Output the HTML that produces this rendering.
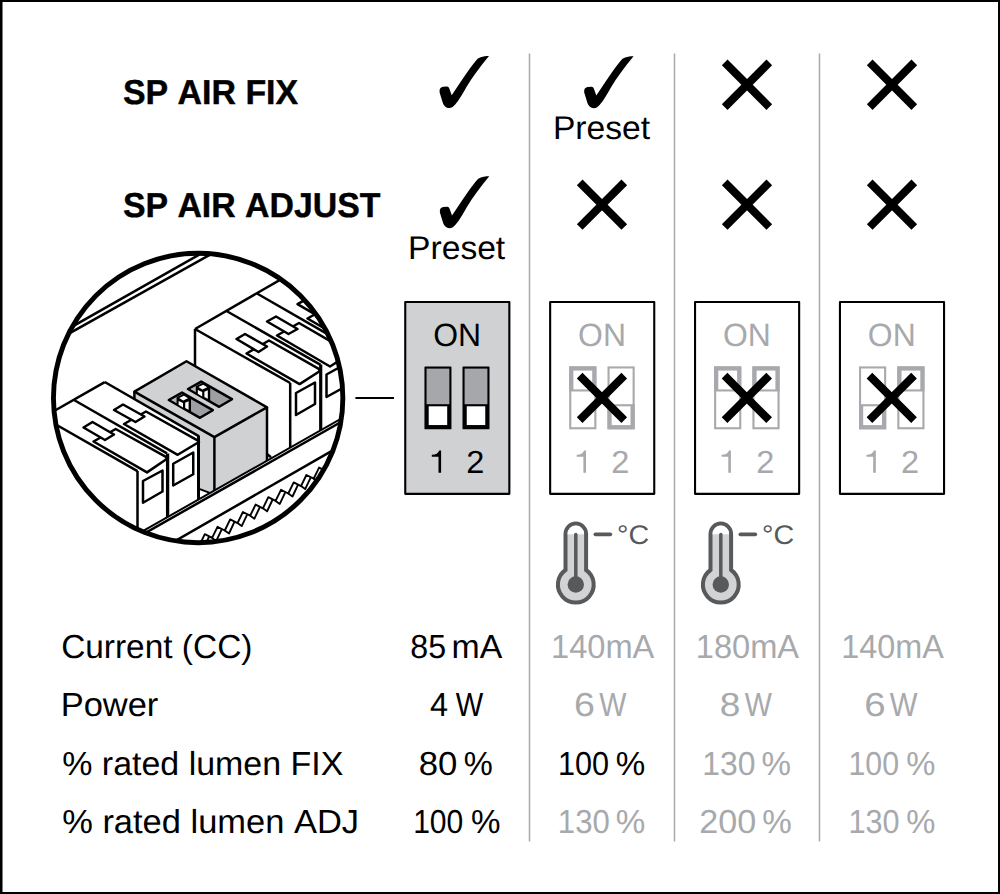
<!DOCTYPE html>
<html><head><meta charset="utf-8">
<style>
html,body{margin:0;padding:0;background:#fff;}
body{width:1000px;height:894px;overflow:hidden;}
svg{display:block;}
text{font-family:"Liberation Sans",sans-serif;text-rendering:geometricPrecision;font-kerning:none;}
</style></head><body>
<svg width="1000" height="894" viewBox="0 0 1000 894">
<defs>
<path id="chk" d="M19.6,50.4 C19.6,48.5 21,47.5 23,46.8 L26.7,46.5 Q28.5,46.2 29.2,48.3 L31.7,55.2 C43.3,38.3 52.4,24.2 57.9,18.6 C61.4,16.6 65.5,16.1 69,16.1 C60.4,26.2 52.4,37.3 46.3,47.3 C42.3,54.4 38.3,61.4 35.2,64.5 C33.2,67 31.2,68 29.2,68 C26.2,68 23.7,65.5 22.7,62.4 L19.6,52.4 Z"/>
<path id="xm" d="M-22.3,-22.3 L22.3,22.3 M22.3,-22.3 L-22.3,22.3" stroke="#000" stroke-width="8" fill="none"/>
</defs>
<rect x="0" y="0" width="1000" height="894" fill="#fff"/>
<rect x="0" y="0" width="2.5" height="894" fill="#000"/><rect x="0" y="0" width="1000" height="2" fill="#000"/><rect x="998" y="0" width="2" height="894" fill="#000"/><rect x="0" y="892" width="1000" height="2" fill="#000"/>
<g stroke="#a7a9ac" stroke-width="1.5">
<line x1="529.5" y1="53.5" x2="529.5" y2="841.5"/>
<line x1="674.5" y1="53.5" x2="674.5" y2="841.5"/>
<line x1="819.5" y1="53.5" x2="819.5" y2="841.5"/>
</g>
<use href="#chk" x="420" y="40"/>
<use href="#chk" x="564.6" y="40.2"/>
<use href="#chk" x="420.3" y="160.2"/>
<use href="#xm" x="747" y="84.75"/>
<use href="#xm" x="892" y="84.75"/>
<use href="#xm" x="602" y="204.7"/>
<use href="#xm" x="747" y="204.7"/>
<use href="#xm" x="892" y="204.7"/>

<g id="illu">
<defs><clipPath id="cc"><circle cx="198.15" cy="398.0" r="144.7"/></clipPath></defs>
<g clip-path="url(#cc)" stroke-linejoin="round" stroke-linecap="butt">
<circle cx="198.15" cy="398.0" r="144.7" fill="#fff"/>
<path d="M34.25,348.19 L238.25,232.51" stroke="#000" stroke-width="2.5" fill="none"/>
<path d="M30.35,355.13 L239.15,238.42" stroke="#000" stroke-width="2.5" fill="none"/>
<path d="M195.00,329.00 L300.00,268.30" stroke="#000" stroke-width="2.5" fill="none"/>
<path d="M195.00,329.00 L195.00,367.00" stroke="#000" stroke-width="2.5" fill="none"/>
<path d="M195.00,329.00 L290.20,383.00" stroke="#000" stroke-width="2.5" fill="none"/>
<path d="M290.20,383.00 L290.20,447.53" stroke="#000" stroke-width="2.5" fill="none"/>
<path d="M226.50,311.00 L320.60,364.80" stroke="#000" stroke-width="2.5" fill="none"/>
<path d="M320.70,364.60 L320.70,430.23" stroke="#000" stroke-width="3.2" fill="none"/>
<path d="M257.00,293.50 L350.00,347.00" stroke="#000" stroke-width="2.5" fill="none"/>
<path d="M246.50,353.50 L269.00,340.50 L318.80,368.80 L319.60,371.30 L299.60,384.10 Z" fill="#fff" stroke="#000" stroke-width="2.5" />
<path d="M236.50,339.00 L245.00,334.00 L267.00,346.50 L258.50,352.00 Z" fill="#fff" stroke="#000" stroke-width="2.5" />
<path d="M277.00,335.50 L299.00,323.00 L350.00,352.60 L350.00,353.90 L330.00,366.50 Z" fill="#fff" stroke="#000" stroke-width="2.5" />
<path d="M267.00,321.50 L276.00,316.50 L297.50,329.00 L288.50,334.00 Z" fill="#fff" stroke="#000" stroke-width="2.5" />
<path d="M307.50,318.50 L329.50,306.00 L360.00,324.00 L350.00,343.40 Z" fill="#fff" stroke="#000" stroke-width="2.5" />
<path d="M297.50,304.20 L306.50,299.20 L328.00,311.70 L319.00,316.70 Z" fill="#fff" stroke="#000" stroke-width="2.5" />
<path d="M296.00,393.00 L315.00,382.50 L315.00,404.00 L296.00,415.00 Z" fill="#fff" stroke="#000" stroke-width="2.5" />
<path d="M326.50,374.50 L345.50,364.00 L345.50,386.50 L326.50,397.00 Z" fill="#fff" stroke="#000" stroke-width="2.5" />
<path d="M134.40,391.60 L214.40,437.10 L214.40,494.60 L198.50,488.60 L134.40,452.00 Z" fill="#d0d1d3" stroke="none" stroke-width="2.5" />
<path d="M198.50,488.60 L214.40,494.60" stroke="#000" stroke-width="2.0" fill="none"/>
<path d="M214.40,437.10 L267.00,407.30 L267.00,462.00 L214.40,492.00 Z" fill="#d0d1d3" stroke="none" stroke-width="2.5" />
<path d="M214.40,437.10 L214.40,492.00" stroke="#000" stroke-width="2.5" fill="none"/>
<path d="M267.00,407.30 L267.00,461.00" stroke="#000" stroke-width="2.5" fill="none"/>
<path d="M267.00,454.00 L271.00,457.20" stroke="#000" stroke-width="2.5" fill="none"/>
<path d="M134.40,391.60 L134.40,399.00" stroke="#000" stroke-width="2.5" fill="none"/>
<path d="M186.50,361.25 L267.00,407.30 L214.40,437.10 L134.40,391.60 Z" fill="#d0d1d3" stroke="#000" stroke-width="2.5" />
<path d="M188.00,389.00 L201.20,381.60 L232.00,399.20 L219.20,406.80 Z" fill="#9d9fa2" stroke="#000" stroke-width="2.5" />
<path d="M190.80,389.10 L195.80,386.30 L195.80,392.00 Z" fill="#b5b7b9" stroke="none" stroke-width="2.5" />
<path d="M195.80,386.20 L203.20,382.60 L210.20,387.20 L210.20,401.60 L203.20,398.00 L195.80,393.60 Z" fill="#000" stroke="none" stroke-width="2.5" />
<path d="M198.40,387.00 L203.20,384.80 L207.20,387.20 L202.40,389.40 Z" fill="#fff" stroke="none" stroke-width="2.5" />
<path d="M197.80,390.00 L202.20,392.00 L202.20,396.40 L197.80,393.80 Z" fill="#fff" stroke="none" stroke-width="2.5" />
<path d="M204.40,391.80 L207.80,390.20 L207.80,398.80 L204.40,397.00 Z" fill="#fff" stroke="none" stroke-width="2.5" />
<path d="M168.80,400.00 L182.00,392.60 L212.80,410.20 L200.00,417.80 Z" fill="#9d9fa2" stroke="#000" stroke-width="2.5" />
<path d="M171.60,400.10 L176.60,397.30 L176.60,403.00 Z" fill="#b5b7b9" stroke="none" stroke-width="2.5" />
<path d="M176.60,397.20 L184.00,393.60 L191.00,398.20 L191.00,412.60 L184.00,409.00 L176.60,404.60 Z" fill="#000" stroke="none" stroke-width="2.5" />
<path d="M179.20,398.00 L184.00,395.80 L188.00,398.20 L183.20,400.40 Z" fill="#fff" stroke="none" stroke-width="2.5" />
<path d="M178.60,401.00 L183.00,403.00 L183.00,407.40 L178.60,404.80 Z" fill="#fff" stroke="none" stroke-width="2.5" />
<path d="M185.20,402.80 L188.60,401.20 L188.60,409.80 L185.20,408.00 Z" fill="#fff" stroke="none" stroke-width="2.5" />
<path d="M104.75,382.00 L198.70,436.20 L198.70,505.00 L60.00,540.00 L30.00,420.00 Z" fill="#fff" stroke="none" stroke-width="2.5" />
<path d="M40.00,419.00 L104.75,382.20" stroke="#000" stroke-width="2.5" fill="none"/>
<path d="M104.75,382.00 L198.70,436.20" stroke="#000" stroke-width="2.5" fill="none"/>
<path d="M198.50,435.50 L198.50,499.52" stroke="#000" stroke-width="3.0" fill="none"/>
<path d="M74.00,400.00 L167.00,453.30" stroke="#000" stroke-width="2.5" fill="none"/>
<path d="M167.60,453.50 L167.60,517.04" stroke="#000" stroke-width="3.3" fill="none"/>
<path d="M40.00,415.50 L137.50,471.05" stroke="#000" stroke-width="2.5" fill="none"/>
<path d="M137.50,471.00 L137.50,540.00" stroke="#000" stroke-width="2.5" fill="none"/>
<path d="M93.50,441.50 L115.70,429.00 L165.90,456.80 L166.70,459.00 L147.00,472.40 Z" fill="#fff" stroke="#000" stroke-width="2.5" />
<path d="M83.50,427.50 L92.50,422.00 L114.00,434.50 L105.00,440.00 Z" fill="#fff" stroke="#000" stroke-width="2.5" />
<path d="M124.00,424.00 L146.00,411.50 L198.40,440.80 L199.00,442.00 L177.70,454.80 Z" fill="#fff" stroke="#000" stroke-width="2.5" />
<path d="M114.00,410.00 L123.00,404.50 L144.50,416.50 L135.50,422.00 Z" fill="#fff" stroke="#000" stroke-width="2.5" />
<path d="M143.00,481.00 L162.50,470.50 L162.50,491.50 L143.00,502.75 Z" fill="#fff" stroke="#000" stroke-width="2.5" />
<path d="M173.20,463.75 L193.25,452.50 L193.25,474.25 L173.20,485.50 Z" fill="#fff" stroke="#000" stroke-width="2.5" />
<path d="M100.00,555.37 L360.00,407.95 L360.00,600.00 L100.00,600.00 Z" fill="#fff" stroke="none" stroke-width="2.5" />
<path d="M100.00,555.37 L360.00,407.95" stroke="#000" stroke-width="2.0" fill="none"/>
<path d="M100.00,558.67 L360.00,411.25" stroke="#000" stroke-width="2.5" fill="none"/>
<path d="M150.00,555.47 L360.00,434.72" stroke="#000" stroke-width="2.5" fill="none"/>
<path d="M161.30,567.50 L166.70,556.40 L174.00,560.10 L179.40,549.00 L186.70,552.70 L192.10,541.60 L199.40,545.30 L204.80,534.20 L212.10,537.90 L217.50,526.80 L224.80,530.50 L230.20,519.40 L237.50,523.10 L242.90,512.00 L250.20,515.70 L255.60,504.60 L262.90,508.30 L268.30,497.20 L275.60,500.90 L281.00,489.80 L288.30,493.50 L293.70,482.40 L301.00,486.10 L306.40,475.00 L313.70,478.70 L319.10,467.60 L326.40,471.30 L331.80,460.20 L339.10,463.90 L344.50,452.80" fill="none" stroke="#000" stroke-width="1.9" stroke-linejoin="round"/>
<path d="M171.05,558.70 L165.50,570.50 L161.30,567.50" fill="none" stroke="#000" stroke-width="1.9" />
<path d="M183.75,551.30 L178.20,563.10 L174.00,560.10" fill="none" stroke="#000" stroke-width="1.9" />
<path d="M196.45,543.90 L190.90,555.70 L186.70,552.70" fill="none" stroke="#000" stroke-width="1.9" />
<path d="M209.15,536.50 L203.60,548.30 L199.40,545.30" fill="none" stroke="#000" stroke-width="1.9" />
<path d="M221.85,529.10 L216.30,540.90 L212.10,537.90" fill="none" stroke="#000" stroke-width="1.9" />
<path d="M234.55,521.70 L229.00,533.50 L224.80,530.50" fill="none" stroke="#000" stroke-width="1.9" />
<path d="M247.25,514.30 L241.70,526.10 L237.50,523.10" fill="none" stroke="#000" stroke-width="1.9" />
<path d="M259.95,506.90 L254.40,518.70 L250.20,515.70" fill="none" stroke="#000" stroke-width="1.9" />
<path d="M272.65,499.50 L267.10,511.30 L262.90,508.30" fill="none" stroke="#000" stroke-width="1.9" />
<path d="M285.35,492.10 L279.80,503.90 L275.60,500.90" fill="none" stroke="#000" stroke-width="1.9" />
<path d="M298.05,484.70 L292.50,496.50 L288.30,493.50" fill="none" stroke="#000" stroke-width="1.9" />
<path d="M310.75,477.30 L305.20,489.10 L301.00,486.10" fill="none" stroke="#000" stroke-width="1.9" />
<path d="M323.45,469.90 L317.90,481.70 L313.70,478.70" fill="none" stroke="#000" stroke-width="1.9" />
<path d="M336.15,462.50 L330.60,474.30 L326.40,471.30" fill="none" stroke="#000" stroke-width="1.9" />
<path d="M348.85,455.10 L343.30,466.90 L339.10,463.90" fill="none" stroke="#000" stroke-width="1.9" />
</g>
<circle cx="198.15" cy="398.0" r="144.7" fill="none" stroke="#000" stroke-width="4.9"/>
</g>

<g id="sw">
<rect x="405.25" y="302.05" width="104.1" height="191.8" fill="#d0d1d3" stroke="#000" stroke-width="2.1" stroke-linejoin="round"/>
<rect x="550.15" y="302.05" width="104.1" height="191.8" fill="#fff" stroke="#000" stroke-width="2.1" stroke-linejoin="round"/>
<rect x="695.05" y="302.05" width="104.1" height="191.8" fill="#fff" stroke="#000" stroke-width="2.1" stroke-linejoin="round"/>
<rect x="839.95" y="302.05" width="104.1" height="191.8" fill="#fff" stroke="#000" stroke-width="2.1" stroke-linejoin="round"/>
<rect x="424.45" y="366.5" width="27.0" height="62.80" rx="0.6" fill="#000"/>
<rect x="426.55" y="368.60" width="22.80" height="35.60" fill="#a5a7aa"/>
<rect x="428.70" y="406.3" width="18.50" height="18.75" fill="#fff"/>
<rect x="462.50" y="366.5" width="27.0" height="62.80" rx="0.6" fill="#000"/>
<rect x="464.60" y="368.60" width="22.80" height="35.60" fill="#a5a7aa"/>
<rect x="466.75" y="406.3" width="18.50" height="18.75" fill="#fff"/>
<rect x="570.25" y="367.45" width="25.10" height="60.80" fill="#fff" stroke="#a7a9ac" stroke-width="2.1"/>
<rect x="569.20" y="366.40" width="27.20" height="25.10" fill="#a7a9ac"/>
<rect x="573.40" y="370.60" width="18.80" height="18.80" fill="#fff"/>
<rect x="608.55" y="367.45" width="25.10" height="60.80" fill="#fff" stroke="#a7a9ac" stroke-width="2.1"/>
<rect x="607.50" y="404.2" width="27.20" height="25.10" fill="#a7a9ac"/>
<rect x="611.70" y="406.30" width="18.80" height="18.80" fill="#fff"/>
<use href="#xm" x="601.95" y="397.9"/>
<rect x="715.15" y="367.45" width="25.10" height="60.80" fill="#fff" stroke="#a7a9ac" stroke-width="2.1"/>
<rect x="714.10" y="366.40" width="27.20" height="25.10" fill="#a7a9ac"/>
<rect x="718.30" y="370.60" width="18.80" height="18.80" fill="#fff"/>
<rect x="753.45" y="367.45" width="25.10" height="60.80" fill="#fff" stroke="#a7a9ac" stroke-width="2.1"/>
<rect x="752.40" y="366.40" width="27.20" height="25.10" fill="#a7a9ac"/>
<rect x="756.60" y="370.60" width="18.80" height="18.80" fill="#fff"/>
<use href="#xm" x="746.85" y="397.9"/>
<rect x="860.05" y="367.45" width="25.10" height="60.80" fill="#fff" stroke="#a7a9ac" stroke-width="2.1"/>
<rect x="859.00" y="404.2" width="27.20" height="25.10" fill="#a7a9ac"/>
<rect x="863.20" y="406.30" width="18.80" height="18.80" fill="#fff"/>
<rect x="898.35" y="367.45" width="25.10" height="60.80" fill="#fff" stroke="#a7a9ac" stroke-width="2.1"/>
<rect x="897.30" y="366.40" width="27.20" height="25.10" fill="#a7a9ac"/>
<rect x="901.50" y="370.60" width="18.80" height="18.80" fill="#fff"/>
<use href="#xm" x="891.75" y="397.9"/>
<path transform="translate(0.00,0)" d="M441.1,450.4 L441.1,472.8 L438.5,472.8 L438.5,456.7 L431.8,456.7 L431.8,454.8 Q437.9,454.6 439.2,450.4 Z" fill="#000"/>
<path transform="translate(144.90,0)" d="M441.1,450.4 L441.1,472.8 L438.5,472.8 L438.5,456.7 L431.8,456.7 L431.8,454.8 Q437.9,454.6 439.2,450.4 Z" fill="#a7a9ac"/>
<path transform="translate(289.80,0)" d="M441.1,450.4 L441.1,472.8 L438.5,472.8 L438.5,456.7 L431.8,456.7 L431.8,454.8 Q437.9,454.6 439.2,450.4 Z" fill="#a7a9ac"/>
<path transform="translate(434.70,0)" d="M441.1,450.4 L441.1,472.8 L438.5,472.8 L438.5,456.7 L431.8,456.7 L431.8,454.8 Q437.9,454.6 439.2,450.4 Z" fill="#a7a9ac"/>
<line x1="355.4" y1="397.9" x2="394" y2="397.9" stroke="#000" stroke-width="2"/>
</g>
<g id="th">
<g transform="translate(0,0)">
<path d="M565.5,570 L565.5,533.9 A10.3,10.3 0 0 1 586.1,533.9 L586.1,570 A17.9,17.9 0 1 1 565.5,570 Z" fill="#d1d3d4" stroke="#58595b" stroke-width="4"/>
<path d="M567.5,534.2 L567.5,533.9 A8.3,8.3 0 0 1 584.1,533.9 L584.1,534.2 Z" fill="#fff" stroke="none"/>
<line x1="575.8" y1="534.5" x2="575.8" y2="584" stroke="#58595b" stroke-width="3.5" stroke-linecap="round"/>
<circle cx="575.8" cy="584.5" r="8.2" fill="#58595b"/>
<line x1="595.4" y1="534.3" x2="610.3" y2="534.3" stroke="#58595b" stroke-width="3.7" stroke-linecap="round"/>
</g>
<g transform="translate(145,0)">
<path d="M565.5,570 L565.5,533.9 A10.3,10.3 0 0 1 586.1,533.9 L586.1,570 A17.9,17.9 0 1 1 565.5,570 Z" fill="#d1d3d4" stroke="#58595b" stroke-width="4"/>
<path d="M567.5,534.2 L567.5,533.9 A8.3,8.3 0 0 1 584.1,533.9 L584.1,534.2 Z" fill="#fff" stroke="none"/>
<line x1="575.8" y1="534.5" x2="575.8" y2="584" stroke="#58595b" stroke-width="3.5" stroke-linecap="round"/>
<circle cx="575.8" cy="584.5" r="8.2" fill="#58595b"/>
<line x1="595.4" y1="534.3" x2="610.3" y2="534.3" stroke="#58595b" stroke-width="3.7" stroke-linecap="round"/>
</g>
</g>
<g id="txt">
<text transform="translate(122.88,103.5) scale(0.9809,1)" font-size="34.59" fill="#000" font-weight="bold" stroke="#000" stroke-width="0.4">SP AIR FIX</text>
<text transform="translate(122.88,216.6) scale(0.9787,1)" font-size="34.59" fill="#000" font-weight="bold" stroke="#000" stroke-width="0.4">SP AIR ADJUST</text>
<text transform="translate(552.91,139.1) scale(1.0234,1)" font-size="32.85" fill="#000" >Preset</text>
<text transform="translate(408.11,259.1) scale(1.0234,1)" font-size="32.85" fill="#000" >Preset</text>
<text transform="translate(61.13,658.2) scale(1.0047,1)" font-size="33.28" fill="#000" >Current (CC)</text>
<text transform="translate(60.64,716.2) scale(1.0362,1)" font-size="33.28" fill="#000" >Power</text>
<text transform="translate(62.21,775.1) scale(1.0206,1)" font-size="33.28" fill="#000" >% rated lumen FIX</text>
<text transform="translate(62.19,833.3) scale(1.0357,1)" font-size="33.28" fill="#000" >% rated lumen ADJ</text>
<text transform="translate(410.35,658.2) scale(0.9673,1)" font-size="33.28" fill="#000" >85</text>
<text transform="translate(451.60,658.2) scale(1.0169,1)" font-size="33.28" fill="#000" >mA</text>
<text transform="translate(429.99,716.2) scale(0.9734,1)" font-size="33.28" fill="#000" >4</text>
<text transform="translate(455.85,716.2) scale(0.8740,1)" font-size="33.28" fill="#000" >W</text>
<text transform="translate(418.64,775.1) scale(1.0442,1)" font-size="33.28" fill="#000" >80</text>
<text transform="translate(463.86,775.1) scale(0.9819,1)" font-size="33.28" fill="#000" >%</text>
<text transform="translate(413.14,833.3) scale(0.9042,1)" font-size="33.28" fill="#000" >100</text>
<text transform="translate(471.04,833.3) scale(0.9966,1)" font-size="33.28" fill="#000" >%</text>
<text transform="translate(551.05,658.2) scale(0.9801,1)" font-size="33.28" fill="#a7a9ac" >140mA</text>
<text transform="translate(574.02,716.2) scale(1.1299,1)" font-size="33.28" fill="#a7a9ac" >6</text>
<text transform="translate(599.26,716.2) scale(0.8644,1)" font-size="33.28" fill="#a7a9ac" >W</text>
<text transform="translate(557.90,775.1) scale(0.9197,1)" font-size="33.28" fill="#000" >100</text>
<text transform="translate(615.84,775.1) scale(0.9966,1)" font-size="33.28" fill="#000" >%</text>
<text transform="translate(557.87,833.3) scale(0.9351,1)" font-size="33.28" fill="#a7a9ac" >130</text>
<text transform="translate(615.84,833.3) scale(0.9966,1)" font-size="33.28" fill="#a7a9ac" >%</text>
<text transform="translate(695.75,658.2) scale(0.9801,1)" font-size="33.28" fill="#a7a9ac" >180mA</text>
<text transform="translate(719.73,716.2) scale(1.1123,1)" font-size="33.28" fill="#a7a9ac" >8</text>
<text transform="translate(744.86,716.2) scale(0.8644,1)" font-size="33.28" fill="#a7a9ac" >W</text>
<text transform="translate(702.21,775.1) scale(0.9583,1)" font-size="33.28" fill="#a7a9ac" >130</text>
<text transform="translate(761.44,775.1) scale(0.9966,1)" font-size="33.28" fill="#a7a9ac" >%</text>
<text transform="translate(699.29,833.3) scale(1.0268,1)" font-size="33.28" fill="#a7a9ac" >200</text>
<text transform="translate(762.24,833.3) scale(0.9966,1)" font-size="33.28" fill="#a7a9ac" >%</text>
<text transform="translate(841.37,658.2) scale(0.9723,1)" font-size="33.28" fill="#a7a9ac" >140mA</text>
<text transform="translate(864.28,716.2) scale(1.1560,1)" font-size="33.28" fill="#a7a9ac" >6</text>
<text transform="translate(889.85,716.2) scale(0.8836,1)" font-size="33.28" fill="#a7a9ac" >W</text>
<text transform="translate(848.53,775.1) scale(0.9100,1)" font-size="33.28" fill="#a7a9ac" >100</text>
<text transform="translate(906.25,775.1) scale(0.9856,1)" font-size="33.28" fill="#a7a9ac" >%</text>
<text transform="translate(848.50,833.3) scale(0.9197,1)" font-size="33.28" fill="#a7a9ac" >130</text>
<text transform="translate(906.25,833.3) scale(0.9856,1)" font-size="33.28" fill="#a7a9ac" >%</text>
<text transform="translate(433.16,346.4) scale(0.9895,1)" font-size="32.27" fill="#000" >ON</text>
<text transform="translate(466.37,472.8) scale(1.0172,1)" font-size="31.98" fill="#000" >2</text>
<text transform="translate(578.06,346.4) scale(0.9895,1)" font-size="32.27" fill="#a7a9ac" >ON</text>
<text transform="translate(611.27,472.8) scale(1.0172,1)" font-size="31.98" fill="#a7a9ac" >2</text>
<text transform="translate(722.96,346.4) scale(0.9895,1)" font-size="32.27" fill="#a7a9ac" >ON</text>
<text transform="translate(756.17,472.8) scale(1.0172,1)" font-size="31.98" fill="#a7a9ac" >2</text>
<text transform="translate(867.86,346.4) scale(0.9895,1)" font-size="32.27" fill="#a7a9ac" >ON</text>
<text transform="translate(901.07,472.8) scale(1.0172,1)" font-size="31.98" fill="#a7a9ac" >2</text>
<text transform="translate(617.08,543.6) scale(1.0589,1)" font-size="27.03" fill="#58595b" >°C</text>
<text transform="translate(762.08,543.6) scale(1.0589,1)" font-size="27.03" fill="#58595b" >°C</text>
</g>
</svg>
</body></html>
